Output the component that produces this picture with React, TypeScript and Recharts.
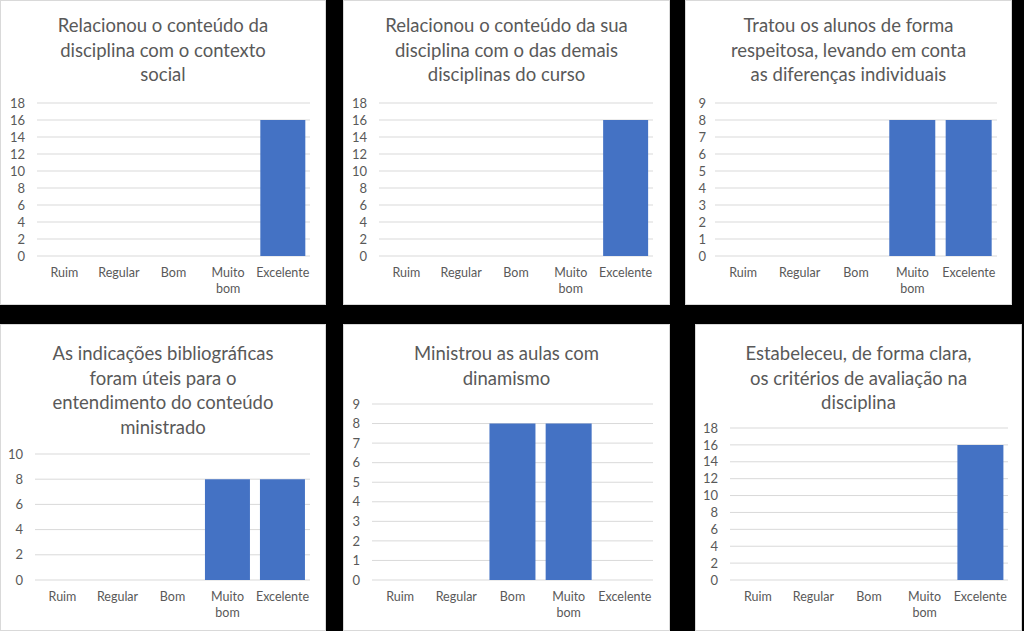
import { BarChart, Bar, XAxis, YAxis, CartesianGrid } from 'recharts';

const categories = ['Ruim', 'Regular', 'Bom', 'Muito bom', 'Excelente'];

const contextoSocial = [0, 0, 0, 0, 16];
const demaisDisciplinas = [0, 0, 0, 0, 16];
const tratouRespeito = [0, 0, 0, 8, 8];
const indicacoesBiblio = [0, 0, 0, 8, 8];
const dinamismo = [0, 0, 8, 8, 0];
const criteriosAvaliacao = [0, 0, 0, 0, 16];

const ticks18 = [0, 2, 4, 6, 8, 10, 12, 14, 16, 18];
const ticks10 = [0, 2, 4, 6, 8, 10];
const ticks9 = [0, 1, 2, 3, 4, 5, 6, 7, 8, 9];

const FONT = 'Lato, "Open Sans", sans-serif';
const TEXT = '#595959';
const GRID = '#d9d9d9';
const BAR = '#4472C4';

interface PanelProps {
  title: string[];
  values: number[];
  ticks: number[];
  left: number;
  top: number;
  width: number;
  height: number;
  plotLeft: number;
  plotRight: number;
  plotTop: number;
  plotBottom: number;
  titleTop: number;
  tickGap?: number;
}

function CategoryTick({ x, y, payload }: any) {
  const words = String(payload.value).split(' ');
  return (
    <text x={x} y={y} textAnchor="middle" fill={TEXT} fontSize={12.5} fontFamily={FONT}>
      {words.map((w, i) => (
        <tspan key={i} x={x} dy={i === 0 ? '0.71em' : 16}>
          {w}
        </tspan>
      ))}
    </text>
  );
}

function Panel(p: PanelProps) {
  const data = categories.map((c, i) => ({ name: c, value: p.values[i] }));
  const axisH = 40;
  return (
    <div
      style={{
        position: 'absolute',
        left: p.left,
        top: p.top,
        width: p.width,
        height: p.height,
        background: '#fff',
        boxSizing: 'border-box',
        border: `1px solid ${GRID}`,
      }}
    >
      <div
        style={{
          position: 'absolute',
          left: 0,
          right: 0,
          top: p.titleTop,
          textAlign: 'center',
          fontFamily: FONT,
          fontSize: 18.5,
          lineHeight: '24.5px',
          color: TEXT,
        }}
      >
        {p.title.map((t, i) => (
          <div key={i}>{t}</div>
        ))}
      </div>
      <div style={{ position: 'absolute', left: -1, top: -1 }}>
        <BarChart
          width={p.width}
          height={p.plotBottom + axisH}
          data={data}
          margin={{ top: p.plotTop, right: p.width - p.plotRight, left: 0, bottom: 0 }}
          barCategoryGap="9%"
        >
          <CartesianGrid vertical={false} stroke={GRID} />
          <XAxis
            dataKey="name"
            axisLine={false}
            tickLine={false}
            tickSize={0}
            tickMargin={12}
            height={axisH}
            interval={0}
            tick={<CategoryTick />}
          />
          <YAxis
            domain={[0, p.ticks[p.ticks.length - 1]]}
            ticks={p.ticks}
            width={p.plotLeft}
            axisLine={false}
            tickLine={false}
            tickSize={0}
            tickMargin={p.tickGap ?? 12}
            interval={0}
            tick={{ fill: TEXT, fontSize: 13, fontFamily: FONT }}
          />
          <Bar dataKey="value" fill={BAR} isAnimationActive={false} />
        </BarChart>
      </div>
    </div>
  );
}

export default function App() {
  return (
    <div style={{ position: 'absolute', left: 0, top: 0, width: 1024, height: 631, background: '#000', overflow: 'hidden' }}>
      <Panel
        title={['Relacionou o conteúdo da', 'disciplina com o contexto', 'social']}
        values={contextoSocial}
        ticks={ticks18}
        left={0} top={0} width={326} height={305}
        plotLeft={37} plotRight={310} plotTop={103} plotBottom={256}
        titleTop={12}
      />
      <Panel
        title={['Relacionou o conteúdo da sua', 'disciplina com o das demais', 'disciplinas do curso']}
        values={demaisDisciplinas}
        ticks={ticks18}
        left={343} top={0} width={327} height={305}
        plotLeft={36} plotRight={310} plotTop={103} plotBottom={256}
        titleTop={12}
      />
      <Panel
        title={['Tratou os alunos de forma', 'respeitosa, levando em conta', 'as diferenças individuais']}
        values={tratouRespeito}
        ticks={ticks9}
        left={685} top={0} width={327} height={305}
        plotLeft={30} plotRight={312} plotTop={103} plotBottom={256}
        titleTop={12}
        tickGap={9}
      />
      <Panel
        title={['As indicações bibliográficas', 'foram úteis para o', 'entendimento do conteúdo', 'ministrado']}
        values={indicacoesBiblio}
        ticks={ticks10}
        left={0} top={324} width={326} height={307}
        plotLeft={35} plotRight={310} plotTop={130} plotBottom={256}
        titleTop={16}
      />
      <Panel
        title={['Ministrou as aulas com', 'dinamismo']}
        values={dinamismo}
        ticks={ticks9}
        left={343} top={324} width={327} height={307}
        plotLeft={29} plotRight={310} plotTop={80} plotBottom={256}
        titleTop={16}
      />
      <Panel
        title={['Estabeleceu, de forma clara,', 'os critérios de avaliação na', 'disciplina']}
        values={criteriosAvaliacao}
        ticks={ticks18}
        left={695} top={324} width={327} height={307}
        plotLeft={35} plotRight={313} plotTop={104} plotBottom={256}
        titleTop={16}
      />
    </div>
  );
}
